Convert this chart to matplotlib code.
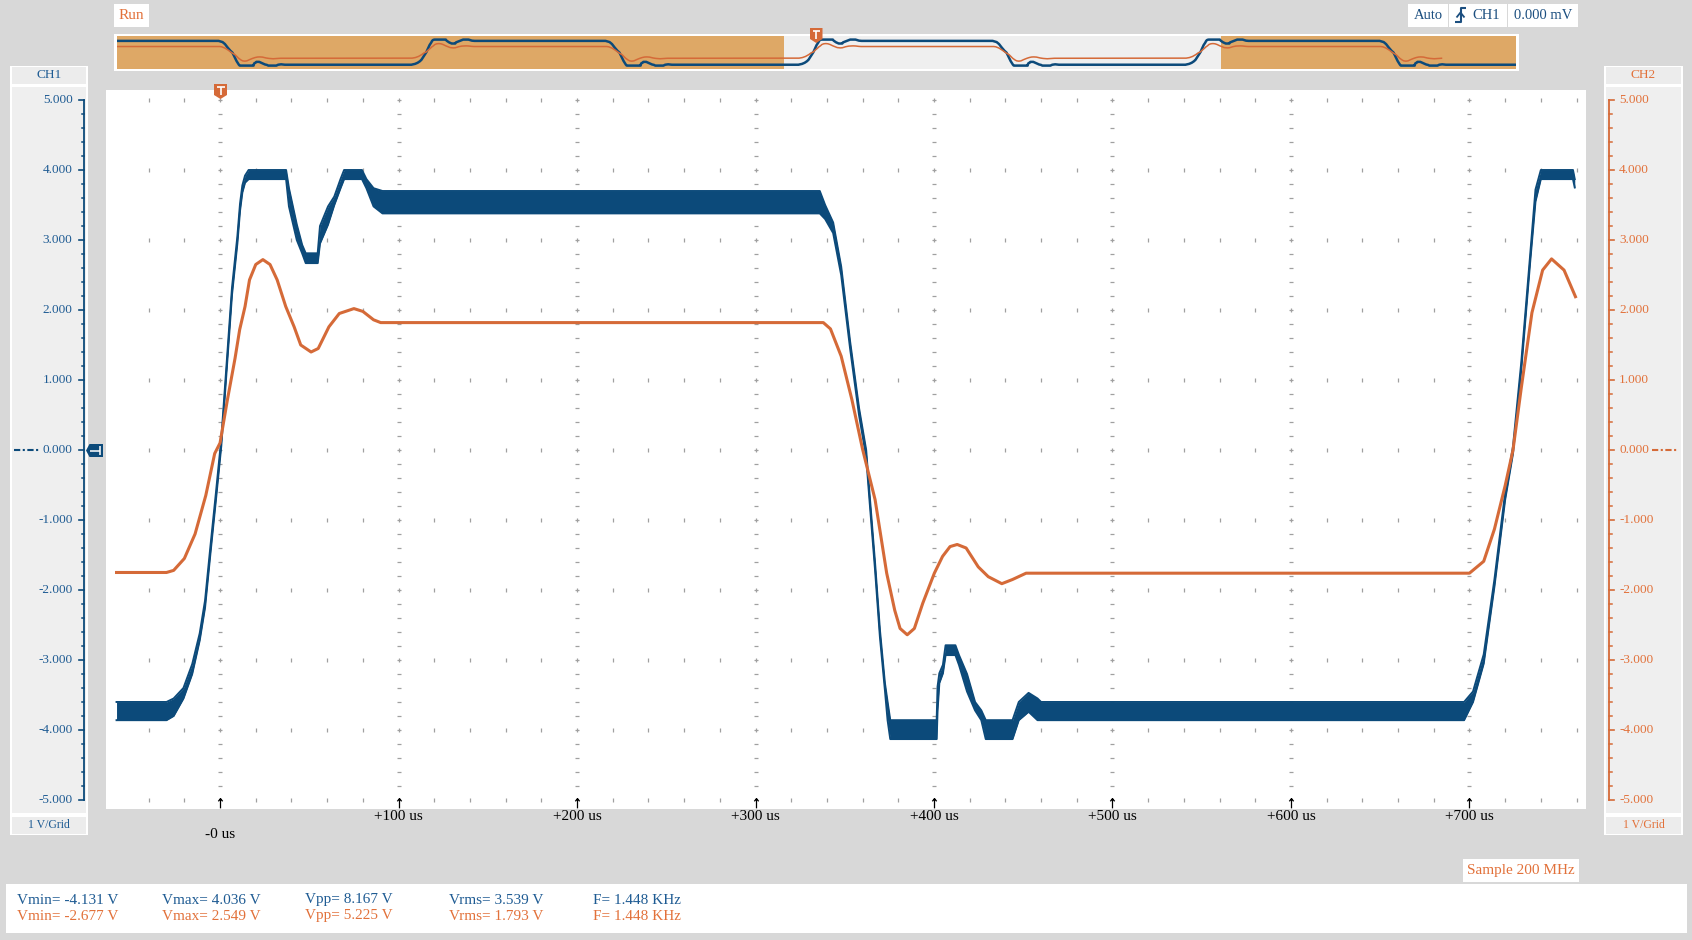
import numpy as np
import matplotlib.pyplot as plt
from matplotlib.patches import Rectangle, Polygon
from matplotlib.lines import Line2D
from matplotlib.path import Path
from matplotlib.transforms import blended_transform_factory

plt.rcParams['font.family'] = ['Liberation Serif', 'DejaVu Serif']

# ---------------- data (time in us, volts) ----------------
# CH1 is a noisy band: lower / upper envelope
ch1_t = [-58, -30, -26, -20.5, -15.6, -11.4, -8.4, -5.4, -2.3, 0.7, 3.7, 6.7, 9.7, 11.2, 12.5, 14, 16,
         37, 38.6, 43, 46, 48, 54.7, 56, 60.5, 64, 67.5, 69.5, 79.5, 82, 86, 91,
         336, 339, 343.5, 348, 353, 358, 362, 364, 367, 369.7, 372.5, 374, 375.5,
         401.5, 402, 403, 405, 406.5, 412, 414, 418.5, 423, 426.5, 429, 444, 447.5, 453, 458, 460,
         697, 702, 708, 714, 720, 724.4, 729, 734, 737, 740, 758, 759]
ch1_lo = [-3.86, -3.86, -3.80, -3.55, -3.20, -2.72, -2.25, -1.48, -0.71, 0.06, 1.14, 2.22, 2.95, 3.42, 3.68, 3.82, 3.87,
          3.87, 3.48, 3.00, 2.81, 2.67, 2.67, 2.95, 3.22, 3.50, 3.74, 3.87, 3.87, 3.74, 3.48, 3.38,
          3.38, 3.30, 3.10, 2.50, 1.45, 0.50, -0.10, -0.76, -1.72, -2.67, -3.43, -3.86, -4.13,
          -4.13, -3.72, -3.33, -3.19, -2.93, -2.93, -3.07, -3.45, -3.72, -3.86, -4.13, -4.13, -3.86, -3.74, -3.86, -3.86,
          -3.86, -3.60, -3.05, -1.95, -0.71, -0.05, 1.14, 2.68, 3.55, 3.87, 3.87, 3.75]
ch1_hi = [-3.60, -3.60, -3.55, -3.40, -3.06, -2.62, -2.15, -1.38, -0.61, 0.16, 1.24, 2.32, 3.05, 3.52, 3.78, 3.92, 4.00,
          4.00, 3.74, 3.22, 2.93, 2.81, 2.81, 3.20, 3.48, 3.62, 3.87, 4.00, 4.00, 3.87, 3.74, 3.70,
          3.70, 3.50, 3.25, 2.62, 1.55, 0.60, 0.00, -0.66, -1.62, -2.57, -3.33, -3.60, -3.86,
          -3.86, -3.38, -3.19, -3.07, -2.79, -2.79, -2.93, -3.20, -3.60, -3.72, -3.86, -3.86, -3.60, -3.47, -3.55, -3.60,
          -3.60, -3.45, -2.92, -1.85, -0.61, 0.05, 1.24, 2.78, 3.72, 4.00, 4.00, 3.87]

ch2_t = [-58, -30, -26, -20, -14, -8, -3, 0, 4, 8.4, 11, 14, 16.5, 20, 24, 28, 32, 36.8, 41.5, 45.2, 51, 55,
         61, 66.8, 75, 80, 86, 90, 338, 342, 348, 354, 360, 367, 373.5, 378, 381, 385, 389, 393.7, 400.2,
         404.8, 409, 413, 418, 424.8, 430.4, 438, 444, 451.6, 700, 708, 714, 720, 724.4, 729, 735, 741, 746,
         753, 759.4]
ch2_v = [-1.75, -1.75, -1.72, -1.55, -1.20, -0.65, -0.05, 0.10, 0.70, 1.31, 1.72, 2.05, 2.43, 2.65, 2.72, 2.65,
         2.43, 2.05, 1.76, 1.50, 1.40, 1.45, 1.76, 1.95, 2.02, 1.98, 1.86, 1.82, 1.82, 1.73, 1.34, 0.72, 0.01,
         -0.71, -1.76, -2.29, -2.55, -2.64, -2.55, -2.19, -1.76, -1.52, -1.38, -1.35, -1.40, -1.67, -1.81,
         -1.91, -1.85, -1.76, -1.76, -1.59, -1.13, -0.51, 0.00, 0.88, 1.96, 2.57, 2.73, 2.57, 2.19]

PERIOD_US = 724          # repeat of the signal in the overview strip

time_major = [0, 100, 200, 300, 400, 500, 600, 700]
time_labels = ['-0 us', '+100 us', '+200 us', '+300 us', '+400 us', '+500 us', '+600 us', '+700 us']
volt_major = [5, 4, 3, 2, 1, 0, -1, -2, -3, -4, -5]
volt_labels = ['5.000', '4.000', '3.000', '2.000', '1.000', '0.000',
               '-1.000', '-2.000', '-3.000', '-4.000', '-5.000']

meas_names = ['Vmin', 'Vmax', 'Vpp', 'Vrms', 'F']
ch1_meas = ['-4.131 V', '4.036 V', '8.167 V', '3.539 V', '1.448 KHz']
ch2_meas = ['-2.677 V', '2.549 V', '5.225 V', '1.793 V', '1.448 KHz']

# ---------------- styles ----------------
W, H = 1692, 940
BG = '#d8d8d8'
BLUE = '#0c4a7a'
ORANGE = '#d56a38'
TXT_BLUE = '#1e5b93'
TXT_ORANGE = '#e2713a'
GRID = '#a0a0a0'


def fx(x):
    return x / W


def fy(y):
    return 1 - y / H


fig = plt.figure(figsize=(W / 100, H / 100), dpi=100, facecolor=BG)


def box(x0, y0, x1, y1, fc='white', z=-5):
    fig.add_artist(Rectangle((fx(x0), fy(y1)), (x1 - x0) / W, (y1 - y0) / H,
                             transform=fig.transFigure, fc=fc, ec='none', lw=0, zorder=z))


def ptext(x, y, s, color, size=11, ha='center', va='center'):
    fig.text(fx(x), fy(y), s, color=color, fontsize=size, ha=ha, va=va)


def pline(xs, ys, color, lw=1.5, z=6):
    fig.add_artist(Line2D([fx(x) for x in xs], [fy(y) for y in ys], color=color, lw=lw,
                          transform=fig.transFigure, zorder=z, solid_capstyle='butt'))


def tmarker(x0, x1, y0, y1):
    xm = (x0 + x1) / 2
    pts = [(x0, y0), (x1, y0), (x1, y1 - 4), (xm, y1), (x0, y1 - 4)]
    fig.add_artist(Polygon([(fx(a), fy(b)) for a, b in pts], closed=True, fc=ORANGE, ec='none',
                           transform=fig.transFigure, zorder=7))
    pline([x0 + 2.5, x1 - 2.5], [y0 + 2.5, y0 + 2.5], 'white', 1.2, 8)
    pline([xm, xm], [y0 + 2.5, y1 - 4], 'white', 1.2, 8)


# ---------------- main scope screen ----------------
ax = fig.add_axes([fx(106), fy(809), (1586 - 106) / W, (809 - 90) / H])
ax.set_facecolor('white')
ax.set_xlim(-63.9, 765.3)
ax.set_ylim(-5.129, 5.143)
ax.set_xticks([])
ax.set_yticks([])
for s in ax.spines.values():
    s.set_visible(False)

minor_t = [t for t in np.arange(-40, 761, 20) if t % 100 != 0]
minor_v = [v for v in np.arange(-4.8, 4.81, 0.2) if abs(v - round(v)) > 1e-6]
for v in volt_major:
    ax.plot(minor_t, [v] * len(minor_t), ls='none', marker='|', ms=2.6, mew=0.9, color=GRID, zorder=1)
for t in time_major:
    ax.plot([t] * len(minor_v), minor_v, ls='none', marker='_', ms=2.6, mew=0.9, color=GRID, zorder=1)
    ax.plot([t] * 10, volt_major[:10], ls='none', marker='+', ms=3.2, mew=0.9, color=GRID, zorder=1)

# open up-arrow markers on the bottom row
arrow = Path([(-0.45, 0.45), (0, 1), (0.45, 0.45), (0, 1), (0, -1)],
             [Path.MOVETO, Path.LINETO, Path.LINETO, Path.MOVETO, Path.LINETO])
ax.plot(time_major, [-5.04] * len(time_major), ls='none', marker=arrow, ms=7, mew=0.9,
        mfc='none', mec='black', zorder=1)

ax.fill_between(ch1_t, ch1_lo, ch1_hi, color=BLUE, lw=0, zorder=3)
ax.plot(ch1_t, ch1_lo, color=BLUE, lw=1.4, zorder=3)
ax.plot(ch1_t, ch1_hi, color=BLUE, lw=1.4, zorder=3)
ax.plot(ch2_t, ch2_v, color=ORANGE, lw=2.2, zorder=4)

for t, lab in zip(time_major, time_labels):
    ax.text(t, -5.129 - (26 if t == 0 else 8) / 70, lab, ha='center', va='center',
            fontsize=11, color='black', clip_on=False)

tmarker(214, 227, 84, 99)

# ---------------- channel scale panels ----------------
trans = blended_transform_factory(fig.transFigure, ax.transData)
minor_scale = [v for v in np.arange(-4.8, 4.81, 0.2) if abs(v - round(v)) > 1e-6]

for (bx0, bx1, name, col, tcol, axis_x, tick_dir, lab_x, ha) in [
        (10, 88, 'CH1', BLUE, TXT_BLUE, 84, -1, 72.5, 'right'),
        (1604, 1683, 'CH2', ORANGE, TXT_ORANGE, 1609, 1, 1619, 'left')]:
    box(bx0, 66, bx1, 835, 'white')
    box(bx0 + 2, 67, bx1 - 2, 84, '#ececec', -4)
    box(bx0 + 2, 86.5, bx1 - 2, 813, '#efefef', -4)
    box(bx0 + 2, 817, bx1 - 2, 833.5, '#ececec', -4)
    ptext((bx0 + bx1) / 2, 75.5, name, tcol, 9.5)
    ptext((bx0 + bx1) / 2, 825.5, '1 V/Grid', tcol, 8.5)
    fig.add_artist(Line2D([fx(axis_x)] * 2, [-5, 5], color=col, lw=1.3, transform=trans, zorder=6))
    for v in volt_major:
        fig.add_artist(Line2D([fx(axis_x), fx(axis_x + 5 * tick_dir)], [v, v], color=col, lw=1.2,
                              transform=trans, zorder=6))
    for v in minor_scale:
        fig.add_artist(Line2D([fx(axis_x), fx(axis_x + 2.5 * tick_dir)], [v, v], color=col, lw=1.1,
                              transform=trans, zorder=6))
    for v, lab in zip(volt_major, volt_labels):
        fig.text(fx(lab_x), v, lab, transform=trans, ha=ha, va='center', fontsize=9.5, color=tcol)

# zero reference dash-dots
fig.add_artist(Line2D([fx(14), fx(39)], [0, 0], color=BLUE, lw=1.5, ls=(0, (3, 1.2, 1, 1.2)),
                      transform=trans, zorder=6))
fig.add_artist(Line2D([fx(1652), fx(1678)], [0, 0], color=ORANGE, lw=1.5, ls=(0, (3, 1.2, 1, 1.2)),
                      transform=trans, zorder=6))

# CH1 ground marker
gpts = [(86, 450.5), (89.5, 444), (103, 444), (103, 457), (89.5, 457)]
fig.add_artist(Polygon([(fx(a), fy(b)) for a, b in gpts], closed=True, fc=BLUE, ec='none',
                       transform=fig.transFigure, zorder=7))
pline([90, 100], [450.5, 450.5], 'white', 1.1, 8)
pline([100, 100], [446, 455], 'white', 1.1, 8)

# ---------------- overview strip ----------------
box(114, 34, 1519, 71, 'white')
ov = fig.add_axes([fx(117), fy(68.5), (1516 - 117) / W, (68.5 - 36) / H])
ov.set_facecolor('#efefef')
ov.set_xlim(-1302, 1315)
ov.set_ylim(-4.88, 5.03)
ov.set_xticks([])
ov.set_yticks([])
for s in ov.spines.values():
    s.set_visible(False)
ov.axvspan(-1302, -54, color='#dea866', lw=0)
ov.axvspan(763, 1315, color='#dea866', lw=0)

t1 = np.array(ch1_t)
m1 = (np.array(ch1_lo) + np.array(ch1_hi)) / 2
t2 = np.array(ch2_t)
v2 = np.array(ch2_v)
k1 = (t1 >= -26) & (t1 < -26 + PERIOD_US)
k2 = (t2 >= -26) & (t2 < -26 + PERIOD_US)
reps = [-2, -1, 0, 1]
ov.plot(np.concatenate([t1[k1] + r * PERIOD_US for r in reps]),
        np.concatenate([m1[k1] for r in reps]), color=BLUE, lw=1.8)
ov.plot(np.concatenate([t2[k2] + r * PERIOD_US for r in reps]),
        np.concatenate([v2[k2] for r in reps]), color=ORANGE, lw=1.1)

tmarker(810, 822.5, 28, 43)

# ---------------- top status boxes ----------------
box(114, 4, 149, 27)
ptext(131.5, 15.5, 'Run', TXT_ORANGE, 11)
box(1408, 4, 1448, 27)
box(1449, 4, 1507, 27)
box(1508, 4, 1578, 27)
ptext(1428, 15.5, 'Auto', '#1c4f80', 10.5)
ptext(1486, 15.5, 'CH1', '#1c4f80', 10.5)
ptext(1543, 15.5, '0.000 mV', '#1c4f80', 10.5)
pline([1455, 1460.5, 1460.5, 1466], [22, 22, 7.5, 7.5], '#1c4f80', 1.5)
pline([1456.5, 1460.5, 1464.5], [17.5, 12.5, 17.5], '#1c4f80', 1.3)

# ---------------- bottom info ----------------
box(1463, 859, 1579, 882)
ptext(1521, 870.5, 'Sample 200 MHz', TXT_ORANGE, 11)

box(6, 884, 1687, 933)
col_x = [17, 162, 305, 449, 593]
for x, name, a, b in zip(col_x, meas_names, ch1_meas, ch2_meas):
    ptext(x, 900, f'{name}= {a}', TXT_BLUE, 11, ha='left')
    ptext(x, 916, f'{name}= {b}', TXT_ORANGE, 11, ha='left')

fig.savefig('out.png', dpi=100, facecolor=BG)
